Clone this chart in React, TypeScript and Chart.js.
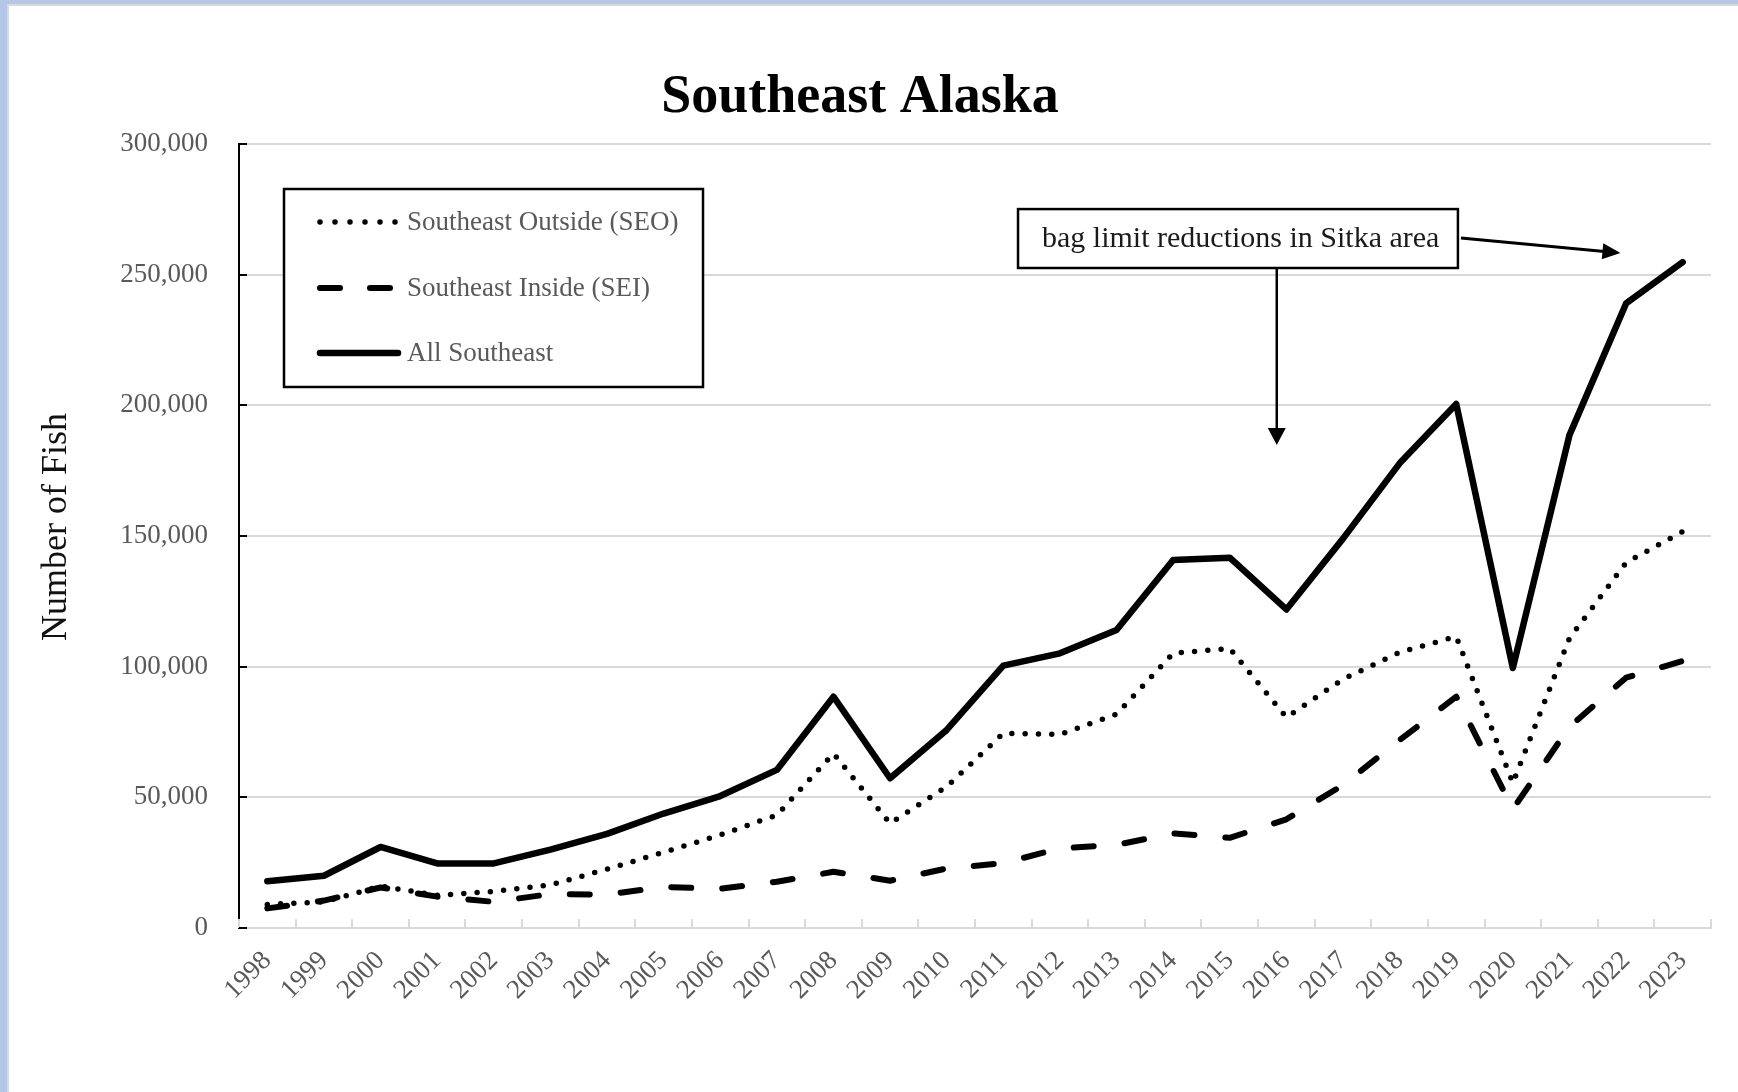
import React, { useEffect, useRef } from "react";
import { Chart, registerables } from "chart.js";

Chart.register(...registerables);

// ---------------- data ----------------
const YEARS = [
  "1998", "1999", "2000", "2001", "2002", "2003", "2004", "2005", "2006",
  "2007", "2008", "2009", "2010", "2011", "2012", "2013", "2014", "2015",
  "2016", "2017", "2018", "2019", "2020", "2021", "2022", "2023",
];

const SEO = [
  9000, 10000, 16000, 12500, 14000, 16500, 22500, 29000, 35600, 43200, 66800,
  40000, 54100, 74500, 74100, 81800, 105100, 107000, 80600, 95200, 105500,
  111500, 55500, 110900, 139800, 151700,
];

const SEI = [
  7500, 10500, 15500, 12000, 10000, 13000, 12800, 15700, 15000, 17700, 21500,
  18100, 22800, 24800, 30500, 31800, 36200, 34500, 41600, 54700, 71900, 88500,
  45500, 77000, 95800, 102200,
];

const ALL_SE = [
  17900, 20000, 31000, 24700, 24700, 30000, 36000, 43800, 50500, 60500, 88500,
  57300, 75800, 100400, 105100, 114000, 140800, 141700, 121900, 149000, 177800,
  200500, 99500, 188600, 239000, 254800,
];

const SERIES_NAMES = ["Southeast Outside (SEO)", "Southeast Inside (SEI)", "All Southeast"];
const Y_MIN = 0;
const Y_MAX = 300000;
const Y_STEP = 50000;
const TITLE = "Southeast Alaska";
const Y_TITLE = "Number of Fish";
const NOTE_TEXT = "bag limit reductions in Sitka area";

// ---------------- styles ----------------
const SERIF = "'Liberation Serif', 'Times New Roman', serif";
const GRAY_TEXT = "#595959";
const GRID = "#D9D9D9";

function drawArrow(
  ctx: CanvasRenderingContext2D,
  x1: number, y1: number, x2: number, y2: number,
  headLen: number, headW: number, lw: number
) {
  const dx = x2 - x1;
  const dy = y2 - y1;
  const len = Math.hypot(dx, dy);
  const ux = dx / len;
  const uy = dy / len;
  const bx = x2 - ux * headLen;
  const by = y2 - uy * headLen;
  ctx.beginPath();
  ctx.lineWidth = lw;
  ctx.strokeStyle = "#000";
  ctx.moveTo(x1, y1);
  ctx.lineTo(bx + ux * 2, by + uy * 2);
  ctx.stroke();
  ctx.beginPath();
  ctx.fillStyle = "#000";
  ctx.moveTo(x2, y2);
  ctx.lineTo(bx - uy * headW / 2, by + ux * headW / 2);
  ctx.lineTo(bx + uy * headW / 2, by - ux * headW / 2);
  ctx.closePath();
  ctx.fill();
}

const decorPlugin = {
  id: "decor",
  beforeDraw(chart: any) {
    const { ctx, width, height } = chart;
    ctx.save();
    ctx.fillStyle = "#ffffff";
    ctx.fillRect(0, 0, width, height);
    ctx.fillStyle = "#B4C7E7";
    ctx.fillRect(0, 0, 7, height);
    ctx.fillRect(0, 0, width, 4);
    ctx.fillStyle = "#D9D9D9";
    ctx.fillRect(7, 4, 2, height - 4);
    ctx.fillRect(7, 4, width - 7, 2);
    ctx.restore();
  },
  afterDraw(chart: any) {
    const { ctx, chartArea } = chart;
    const xs = chart.scales.x;
    const ys = chart.scales.y;
    ctx.save();

    // inside tick marks on the x axis (at category boundaries)
    ctx.strokeStyle = GRID;
    ctx.lineWidth = 2;
    for (let i = 0; i <= YEARS.length; i++) {
      const x = Math.round(xs.getPixelForValue(i - 0.5));
      ctx.beginPath();
      ctx.moveTo(x, chartArea.bottom);
      ctx.lineTo(x, chartArea.bottom - 9);
      ctx.stroke();
    }
    // inside tick marks on the y axis
    ctx.strokeStyle = "#000";
    for (const t of ys.ticks) {
      const y = Math.round(ys.getPixelForValue(t.value));
      ctx.beginPath();
      ctx.moveTo(chartArea.left, y);
      ctx.lineTo(chartArea.left + 8, y);
      ctx.stroke();
    }

    // title
    ctx.fillStyle = "#000";
    ctx.font = `bold 54px ${SERIF}`;
    ctx.textAlign = "center";
    ctx.textBaseline = "alphabetic";
    ctx.fillText(TITLE, 860, 112);

    // y axis title
    ctx.save();
    ctx.translate(66, (chartArea.top + chartArea.bottom) / 2 - 9);
    ctx.rotate(-Math.PI / 2);
    ctx.font = `36px ${SERIF}`;
    ctx.fillStyle = "#111";
    ctx.textAlign = "center";
    ctx.fillText(Y_TITLE, 0, 0);
    ctx.restore();

    // legend box
    const lx = chartArea.left + 45;
    const ly = chartArea.top + 45;
    const lw = 419;
    const lh = 198;
    ctx.fillStyle = "#fff";
    ctx.fillRect(lx, ly, lw, lh);
    ctx.strokeStyle = "#000";
    ctx.lineWidth = 2.5;
    ctx.setLineDash([]);
    ctx.strokeRect(lx, ly, lw, lh);
    const rows = [ly + 33, ly + 99, ly + 164];
    chart.data.datasets.forEach((ds: any, i: number) => {
      const y = rows[i];
      ctx.beginPath();
      ctx.strokeStyle = ds.borderColor;
      ctx.lineWidth = ds.borderWidth;
      ctx.lineCap = "round";
      ctx.setLineDash(ds.legendDash || []);
      ctx.moveTo(lx + 36, y);
      ctx.lineTo(lx + 114, y);
      ctx.stroke();
      ctx.setLineDash([]);
      ctx.fillStyle = GRAY_TEXT;
      ctx.font = `27px ${SERIF}`;
      ctx.textAlign = "left";
      ctx.textBaseline = "middle";
      ctx.fillText(ds.label, lx + 123, y + 1);
    });

    // annotation box
    const bx1 = xs.getPixelForValue(13.26);
    const bx2 = xs.getPixelForValue(21.03);
    const by1 = ys.getPixelForValue(275100);
    const by2 = ys.getPixelForValue(252550);
    ctx.fillStyle = "#fff";
    ctx.fillRect(bx1, by1, bx2 - bx1, by2 - by1);
    ctx.strokeStyle = "#000";
    ctx.lineWidth = 2.5;
    ctx.strokeRect(bx1, by1, bx2 - bx1, by2 - by1);
    ctx.fillStyle = "#1a1a1a";
    ctx.font = `30px ${SERIF}`;
    ctx.textAlign = "left";
    ctx.textBaseline = "middle";
    ctx.fillText(NOTE_TEXT, bx1 + 24, (by1 + by2) / 2 + 1);

    // arrows
    ctx.lineCap = "butt";
    const ax = xs.getPixelForValue(17.83);
    drawArrow(ctx, ax, by2, ax, ys.getPixelForValue(184800), 17, 18, 2.5);
    drawArrow(
      ctx,
      bx2 + 3, ys.getPixelForValue(264000),
      xs.getPixelForValue(23.9), ys.getPixelForValue(258300),
      18, 16, 3
    );

    ctx.restore();
  },
};

export default function App() {
  const ref = useRef<HTMLCanvasElement | null>(null);

  useEffect(() => {
    document.body.style.margin = "0";
    const canvas = ref.current;
    if (!canvas) return;
    const tickFont = { family: SERIF, size: 27 };
    const chart = new Chart(canvas, {
      type: "line",
      data: {
        labels: YEARS,
        datasets: [
          {
            label: SERIES_NAMES[0],
            data: SEO,
            borderColor: "#000",
            borderWidth: 5.5,
            borderDash: [0, 13.3],
            legendDash: [0, 15],
            borderCapStyle: "round",
            borderJoinStyle: "round",
            pointRadius: 0,
            fill: false,
          } as any,
          {
            label: SERIES_NAMES[1],
            data: SEI,
            borderColor: "#000",
            borderWidth: 6,
            borderDash: [20, 31],
            legendDash: [20, 30],
            borderCapStyle: "round",
            borderJoinStyle: "round",
            pointRadius: 0,
            fill: false,
          } as any,
          {
            label: SERIES_NAMES[2],
            data: ALL_SE,
            borderColor: "#000",
            borderWidth: 6.5,
            borderCapStyle: "round",
            borderJoinStyle: "round",
            pointRadius: 0,
            fill: false,
          } as any,
        ],
      },
      options: {
        responsive: false,
        maintainAspectRatio: false,
        animation: false,
        layout: { padding: { left: 0, top: 144, right: 27, bottom: 0 } },
        plugins: {
          legend: { display: false },
          title: { display: false },
          tooltip: { enabled: false },
        },
        elements: { line: { tension: 0 }, point: { radius: 0 } },
        scales: {
          x: {
            type: "category",
            offset: true,
            grid: { display: false, drawTicks: false },
            border: { display: true, color: GRID, width: 2 },
            ticks: {
              autoSkip: false,
              minRotation: 45,
              maxRotation: 45,
              padding: 17,
              color: GRAY_TEXT,
              font: tickFont,
            },
            afterFit: (s: any) => {
              s.height = 1092 - 928;
            },
          },
          y: {
            min: Y_MIN,
            max: Y_MAX,
            ticks: {
              stepSize: Y_STEP,
              padding: 31,
              color: GRAY_TEXT,
              font: tickFont,
              callback: (v: any) => Number(v).toLocaleString("en-US"),
            },
            grid: { color: GRID, lineWidth: 2, drawTicks: false },
            border: { display: true, color: "#000", width: 2 },
            afterFit: (s: any) => {
              s.width = 239;
            },
          },
        },
      } as any,
      plugins: [decorPlugin],
    });
    return () => chart.destroy();
  }, []);

  return (
    <div style={{ width: 1738, height: 1092, overflow: "hidden" }}>
      <canvas ref={ref} width={1738} height={1092} style={{ display: "block" }} />
    </div>
  );
}
